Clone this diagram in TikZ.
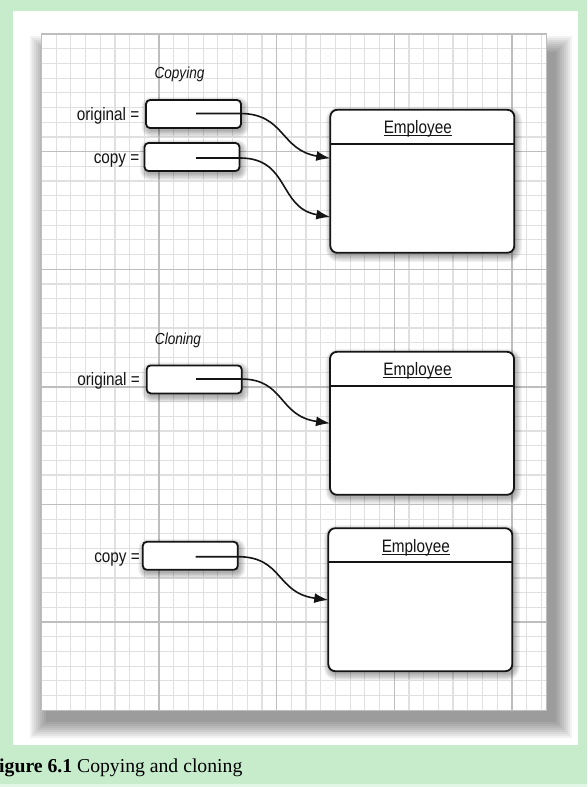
\documentclass[tikz,border=0pt]{standalone}
\usepackage{fontspec}
\newfontfamily\labfont[FakeStretch=0.85]{Liberation Sans}
\newfontfamily\capfont{Liberation Serif}
\usetikzlibrary{arrows.meta}
\definecolor{bggreen}{RGB}{198,236,204}
\definecolor{bgstrip}{RGB}{226,246,229}
\definecolor{gridminor}{RGB}{224,224,224}
\definecolor{gridmajor}{RGB}{190,190,190}
\definecolor{inkc}{RGB}{20,20,20}
\tikzset{
  refbox/.style={draw=inkc, fill=white, line width=1.8pt, rounded corners=4pt,
    minimum width=95pt, minimum height=28pt, inner sep=0pt, outer sep=0pt},
  objbox/.style={draw=inkc, fill=white, line width=1.8pt, rounded corners=7pt,
    minimum width=184pt, minimum height=143pt, inner sep=0pt, outer sep=0pt},
  lbl/.style={font=\labfont\fontsize{18}{21}\selectfont, text=inkc, inner sep=0pt, anchor=base east},
  ttl/.style={font=\labfont\itshape\fontsize{16}{18}\selectfont, text=inkc, inner sep=0pt, anchor=base},
  cls/.style={font=\labfont\fontsize{18}{21}\selectfont, text=inkc, inner sep=0pt, anchor=base},
  ptr/.style={draw=inkc, line width=1.6pt, -{Latex[length=14pt,width=10pt]}},
  divline/.style={draw=inkc, line width=1.6pt},
  uline/.style={draw=inkc, line width=1pt},
  minorline/.style={draw=gridminor, line width=1.2pt},
  majorline/.style={draw=gridmajor, line width=1.4pt},
}
% soft shadow: x1 y1 x2 y2 radius
\newcommand\myshadow[5]{%
  \foreach \i in {0,...,5}{%
    \pgfmathsetmacro\ee{1.2*\i}%
    \pgfmathsetmacro\rr{#5+\ee}%
    \fill[black, opacity=0.06, rounded corners=\rr pt]
      (#1+1.5-\ee, #2+3-\ee) rectangle (#3+1.5+\ee, #4+3+\ee);
  }%
}
\begin{document}
\begin{tikzpicture}[x=1pt,y=-1pt]
\useasboundingbox (0,0) rectangle (587,787);
% page background
\fill[bggreen] (0,0) rectangle (587,787);
\fill[bgstrip] (0,784) rectangle (587,787);
\fill[white] (12.7,10.7) rectangle (577.5,745);
% paper shadow
\foreach \i in {0,...,8}{%
  \pgfmathsetmacro\ee{2*\i}%
  \fill[black, opacity=0.05] (46-\ee,52-\ee) rectangle (556+\ee,722+\ee);
}
% grid paper
\fill[white] (41,33) rectangle (546,710);
\begin{scope}
  \clip (41,33) rectangle (546,710);
  \foreach \k in {0,...,34}{%
    \pgfmathsetmacro\xx{41.4+14.7*\k}%
    \draw[minorline] (\xx,33) -- (\xx,710);
  }
  \foreach \k in {0,...,46}{%
    \pgfmathsetmacro\yy{34+14.7*\k}%
    \draw[minorline] (41,\yy) -- (546,\yy);
  }
  \foreach \xx in {41.4,159,276.6,394.2,511.8}{%
    \draw[majorline] (\xx,33) -- (\xx,710);
  }
  \foreach \yy in {34,151.6,269.2,386.8,504.4,622}{%
    \draw[majorline] (41,\yy) -- (546,\yy);
  }
\end{scope}
\draw[gridmajor, line width=1pt] (41,33) rectangle (546,710);

% headings
\node[ttl] (hcopy) at (179.5,78.5) {Copying};
\node[ttl] (hclone) at (178,344.5) {Cloning};

% shadows of boxes
\myshadow{146}{100}{241}{128}{4}
\myshadow{144.5}{143}{239.5}{171}{4}
\myshadow{146.7}{365.4}{241.7}{393.4}{4}
\myshadow{142.8}{541.8}{237.8}{569.8}{4}
\myshadow{330.3}{109.8}{514.3}{252.8}{7}
\myshadow{330}{351.8}{514}{494.8}{7}
\myshadow{328.3}{528.2}{512.3}{671.2}{7}

% reference boxes
\node[refbox] (o1) at (193.5,114) {};
\node[refbox] (c1) at (192,157) {};
\node[refbox] (o2) at (194.2,379.4) {};
\node[refbox] (c2) at (190.3,555.8) {};

% labels
\node[lbl] (lo1) at (139.5,120) {original =};
\node[lbl] (lc1) at (139.5,163) {copy =};
\node[lbl] (lo2) at (140,385) {original =};
\node[lbl] (lc2) at (140,562) {copy =};

% object boxes
\node[objbox] (e1) at (422.3,181.3) {};
\node[objbox] (e2) at (422,423.3) {};
\node[objbox] (e3) at (420.3,599.7) {};
\foreach \b in {e1,e2,e3}{%
  \draw[divline] ([yshift=-34pt]\b.north west) -- ([yshift=-34pt]\b.north east);
  \node[cls] (h\b) at ([xshift=-4.5pt,yshift=-24pt]\b.north) {Employee};
  \draw[uline] ([yshift=-2pt]h\b.base west) -- ([yshift=-2pt]h\b.base east);
}

% pointer ends
\coordinate (p1) at (196,113.5);
\coordinate (p2) at (196,158);
\coordinate (p3) at (196,379);
\coordinate (p4) at (195.7,556.7);
\coordinate (t1) at (e1.west |- 0,158.3);
\coordinate (t2) at (e1.west |- 0,217);
\coordinate (t3) at (e2.west |- 0,423.3);
\coordinate (t4) at (e3.west |- 0,600);

\draw[ptr] (p1) -- (240,113.5) .. controls (285,113.5) and (280,150) .. (t1);
\draw[ptr] (p2) -- (240,158) .. controls (290,158) and (278,208) .. (t2);
\draw[ptr] (p3) -- (241,379) .. controls (285,379) and (278,416) .. (t3);
\draw[ptr] (p4) -- (238,556.7) .. controls (283,556.7) and (276,593) .. (t4);

% caption
\node[anchor=base west, inner sep=0pt, text=black,
      font=\capfont\fontsize{19.7}{24}\selectfont] (cap) at (-13,772)
      {\textbf{Figure 6.1} Copying and cloning};
\end{tikzpicture}
\end{document}
